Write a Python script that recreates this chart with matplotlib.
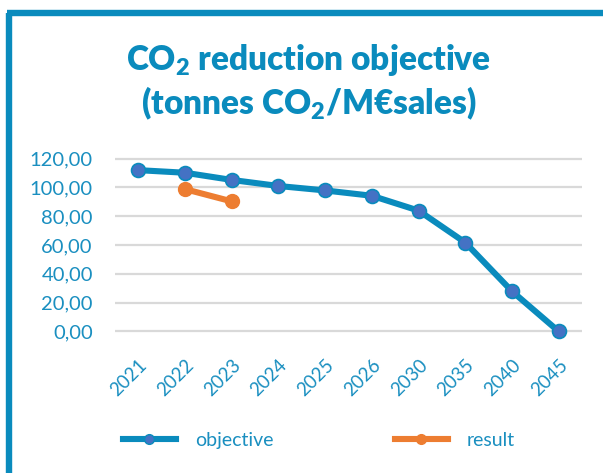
import matplotlib
matplotlib.use("Agg")
import matplotlib.pyplot as plt
from matplotlib.lines import Line2D

years = ["2021", "2022", "2023", "2024", "2025", "2026", "2030", "2035", "2040", "2045"]
objective = [112.0, 110.2, 105.2, 101.0, 97.9, 94.2, 83.9, 61.7, 27.9, 0.0]
result_years = ["2022", "2023"]
result = [98.8, 90.3]
yticks = [0, 20, 40, 60, 80, 100, 120]

BLUE = "#0a8bbd"
TXT = "#1a8fc0"
MARK = "#4472c4"
ORANGE = "#ed7d31"

plt.rcParams['font.family'] = ['Lato', 'DejaVu Sans']
plt.rcParams['mathtext.default'] = 'regular'

W, H = 603, 473
fig = plt.figure(figsize=(W/100, H/100), dpi=100)

# frame
fig.add_artist(Line2D([9/W, 9/W], [0, 1-13/H], transform=fig.transFigure, color=BLUE, lw=4.6, solid_capstyle='butt'))
fig.add_artist(Line2D([6.7/W, 1], [1-13/H, 1-13/H], transform=fig.transFigure, color=BLUE, lw=4.6, solid_capstyle='butt'))

ax = fig.add_axes([115/W, 1-340/H, (582-115)/W, (340-150)/H])
x = list(range(len(years)))
ax.set_xlim(-0.5, len(years)-0.5)
ax.plot(x, objective, color=BLUE, lw=4.4, marker='o', markersize=10,
        markerfacecolor=MARK, markeredgecolor=BLUE, markeredgewidth=1.2, label='objective', zorder=3)
rx = [years.index(y) for y in result_years]
ax.plot(rx, result, color=ORANGE, lw=4.4, marker='o', markersize=10,
        markerfacecolor=ORANGE, markeredgecolor=ORANGE, label='result', zorder=3)

ax.set_ylim(-6, 126)
ax.set_yticks(yticks)
ax.set_yticklabels([f"{v:.2f}".replace('.', ',') for v in yticks], color=TXT, fontsize=14.5)
ax.set_xticks(x)
ax.set_xticklabels(years, rotation=45, ha='right', rotation_mode='anchor', color=TXT, fontsize=13.5)
ax.tick_params(length=0)
ax.tick_params(axis='y', pad=16)
ax.tick_params(axis='x', pad=12)
ax.grid(axis='y', color='#d9d9d9', lw=1.6)
ax.set_axisbelow(True)
for s in ax.spines.values():
    s.set_visible(False)

fig.text(309/W, 1-60/H, r"CO$_{2}$ reduction objective", ha='center', va='center',
         fontsize=24, fontweight='heavy', color=BLUE)
fig.text(309/W, 1-103/H, r"(tonnes CO$_{2}$/M€sales)", ha='center', va='center',
         fontsize=24, fontweight='heavy', color=BLUE)

h1 = Line2D([], [], color=BLUE, lw=4.4, marker='o', markersize=7, markerfacecolor=MARK, markeredgecolor=BLUE)
h2 = Line2D([], [], color=ORANGE, lw=4.4, marker='o', markersize=7, markerfacecolor=ORANGE, markeredgecolor=ORANGE)
for h, lab, x0 in [(h1, 'objective', 123), (h2, 'result', 395)]:
    leg = fig.legend([h], [lab], loc='center left', bbox_to_anchor=(x0/W, 1-440/H),
                     frameon=False, fontsize=14, handlelength=2.7, handletextpad=1.0,
                     borderpad=0, borderaxespad=0)
    for t in leg.get_texts():
        t.set_color(TXT)

fig.savefig("out.png", dpi=100, facecolor='white')
